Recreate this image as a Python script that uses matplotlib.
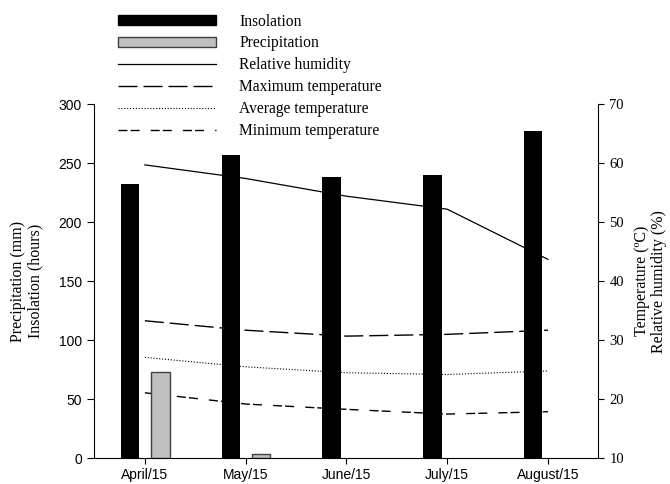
import matplotlib
matplotlib.use("Agg")
from matplotlib import pyplot as plt
from matplotlib.patches import Patch
from matplotlib.lines import Line2D
import numpy as np

months = ["April/15", "May/15", "June/15", "July/15", "August/15"]
insolation = [232, 257, 238, 240, 277]
precipitation = [73, 4, 0, 0, 0]
rel_humidity = [59.7, 57.4, 54.4, 52.2, 43.7]
max_temp = [33.3, 31.7, 30.7, 31.0, 31.7]
avg_temp = [27.1, 25.5, 24.5, 24.2, 24.8]
min_temp = [21.1, 19.2, 18.3, 17.5, 17.9]

serif = "Liberation Serif"
sans = "Liberation Sans"

fig = plt.figure(figsize=(6.7, 4.84), dpi=100)
ax = fig.add_axes([0.141, 0.053, 0.752, 0.732])
ax2 = ax.twinx()
ax.set_zorder(ax2.get_zorder() + 1)
ax.patch.set_visible(False)

x = np.arange(len(months))
w = 0.184
ax.bar(x - 0.147, insolation, w, color="black", zorder=3)
# zero months have no bar in the original (no outline either)
px = [i for i, v in enumerate(precipitation) if v > 0]
pv = [v for v in precipitation if v > 0]
ax.bar(np.array(px) + 0.153, pv, w, color="#c0c0c0", edgecolor="#404040",
       linewidth=1.0, zorder=3)

ax2.plot(x, rel_humidity, color="black", lw=0.9)
ax2.plot(x, max_temp, color="black", lw=1.0, linestyle=(0, (13.7, 4.3)))
ax2.plot(x, avg_temp, color="black", lw=0.8, linestyle=(0, (1, 1.6)))
ax2.plot(x, min_temp, color="black", lw=1.0,
         linestyle=(0, (6.5, 2.2, 6.5, 8)))

ax.set_xlim(-0.5, 4.5)
ax.set_ylim(0, 300)
ax2.set_ylim(10, 70)
ax.set_yticks(range(0, 301, 50))
ax2.set_yticks(range(10, 71, 10))
ax.set_xticks(x)
ax.set_xticklabels(months, fontfamily=sans, fontsize=10)
for t in ax.get_yticklabels():
    t.set_fontfamily(sans)
    t.set_fontsize(10)
for t in ax2.get_yticklabels():
    t.set_fontfamily(serif)
    t.set_fontsize(10.5)

ax.spines["top"].set_visible(False)
ax.spines["right"].set_visible(False)
ax2.spines["top"].set_visible(False)
ax2.spines["left"].set_visible(False)
ax2.spines["bottom"].set_visible(False)
ax.tick_params(axis="y", length=5, width=0.8, pad=4)
ax.tick_params(axis="x", length=4, width=0.8, pad=3)
ax2.tick_params(axis="y", length=4, width=0.8, pad=4)

ax.set_ylabel("Precipitation (mm)\nInsolation (hours)", fontfamily=serif,
              fontsize=11.5, labelpad=11, linespacing=1.1)
ax2.set_ylabel("Temperature (ºC)\nRelative humidity (%)", fontfamily=serif,
               fontsize=11.5, labelpad=7, linespacing=1.1)

handles = [
    Patch(facecolor="black", edgecolor="black"),
    Patch(facecolor="#c0c0c0", edgecolor="#404040"),
    Line2D([], [], color="black", lw=0.9),
    Line2D([], [], color="black", lw=1.0, linestyle=(0, (13.7, 4.3))),
    Line2D([], [], color="black", lw=0.8, linestyle=(0, (1, 1.6))),
    Line2D([], [], color="black", lw=1.0, linestyle=(0, (6.5, 2.2, 6.5, 8))),
]
labels = ["Insolation", "Precipitation", "Relative humidity",
          "Maximum temperature", "Average temperature", "Minimum temperature"]
fig.legend(handles, labels, loc="upper left", bbox_to_anchor=(0.176, 0.972),
           frameon=False, borderpad=0, borderaxespad=0,
           prop={"family": serif, "size": 11.2}, handlelength=6.3,
           handletextpad=1.5, labelspacing=0.38, handleheight=0.65)

fig.savefig("out.png", dpi=100)
